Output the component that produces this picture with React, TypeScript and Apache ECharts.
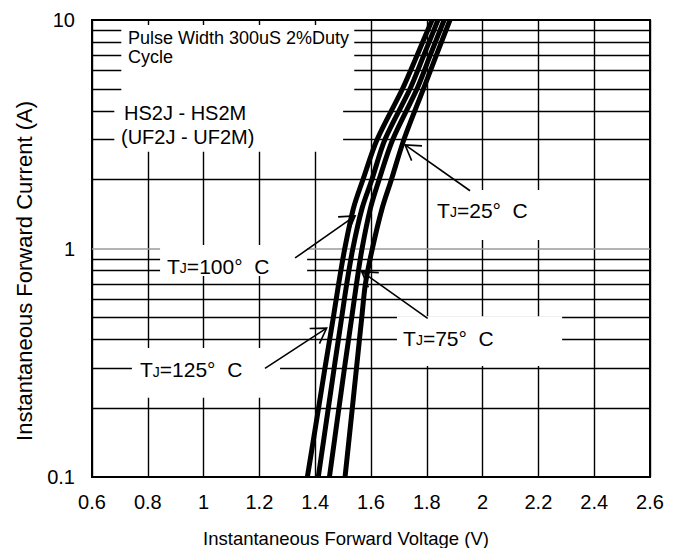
import React, { useEffect, useRef } from "react";
import * as echarts from "echarts";

const FONT = '"Liberation Sans", Arial, Helvetica, sans-serif';

// ---- data ----
const currents = [0.1, 0.2, 0.3, 0.5, 0.7, 1, 1.5, 2, 3, 5, 7, 10];
const vf125 = [1.372, 1.412, 1.435, 1.465, 1.484, 1.506, 1.537, 1.571, 1.622, 1.713, 1.765, 1.819];
const vf100 = [1.411, 1.447, 1.468, 1.495, 1.513, 1.535, 1.568, 1.603, 1.65, 1.74, 1.789, 1.84];
const vf75 = [1.451, 1.485, 1.505, 1.531, 1.548, 1.568, 1.598, 1.629, 1.678, 1.765, 1.812, 1.862];
const vf25 = [1.507, 1.533, 1.548, 1.567, 1.58, 1.605, 1.64, 1.673, 1.718, 1.788, 1.834, 1.883];
const curveNames = ["TJ=125°C", "TJ=100°C", "TJ=75°C", "TJ=25°C"];
const curveValues = [vf125, vf100, vf75, vf25];

const xMin = 0.6;
const xMax = 2.6;
const xStep = 0.2;
const yMin = 0.1;
const yMax = 10;
const minorGridValues = [0.2, 0.3, 0.4, 0.5, 0.6, 0.7, 0.8, 0.9, 2, 3, 4, 5, 6, 7, 8, 9];
const majorGridValues = [1];

const xTitle = "Instantaneous Forward Voltage (V)";
const yTitle = "Instantaneous Forward Current (A)";
const noteLines = ["Pulse Width 300uS 2%Duty", "Cycle"];
const partLines = ["HS2J - HS2M", "(UF2J - UF2M)"];
const tempLabels = ["25", "100", "75", "125"];

// ---- annotation layout (data coordinates) ----
const boxes = [
  [0.705, 9.5, 1.54, 4.4],
  [0.68, 4.7, 1.5, 2.65],
  [1.819, 1.803, 2.277, 1.089],
  [0.844, 1.036, 1.371, 0.758],
  [1.693, 0.505, 2.285, 0.306],
  [0.743, 0.367, 1.274, 0.222],
];
const notePos = [
  [0.729, 8.34],
  [0.729, 6.89],
];
const partPos = [
  [0.7147, 3.92],
  [0.704, 3.08],
];
const tempTextPos = [
  [1.837, 1.49],
  [0.869, 0.847],
  [1.715, 0.411],
  [0.772, 0.299],
];
const arrows = [
  [[1.955, 1.79], [1.722, 2.84]],
  [[1.328, 0.909], [1.543, 1.388]],
  [[1.803, 0.495], [1.567, 0.792]],
  [[1.22, 0.299], [1.441, 0.448]],
];

export default function App() {
  const ref = useRef<HTMLDivElement>(null);

  useEffect(() => {
    if (!ref.current) return;
    const chart = echarts.init(ref.current, undefined, { renderer: "svg" });

    const curveSeries = curveValues.map((vals, k) => ({
      type: "line",
      name: curveNames[k],
      data: currents.map((a, i) => [vals[i], a]),
      showSymbol: false,
      symbol: "none",
      smooth: 0.3,
      silent: true,
      z: 5,
      lineStyle: { color: "#000", width: 5 },
    }));

    const gridSeries = {
      type: "line",
      name: "grid",
      data: [],
      silent: true,
      z: 1,
      markLine: {
        z: 1,
        silent: true,
        animation: false,
        symbol: ["none", "none"],
        label: { show: false },
        data: [
          ...minorGridValues.map((v) => ({ yAxis: v, lineStyle: { color: "#000", width: 1.4, type: "solid" } })),
          ...majorGridValues.map((v) => ({ yAxis: v, lineStyle: { color: "#9a9a9a", width: 1.6, type: "solid" } })),
        ],
      },
    };

    chart.setOption({
      animation: false,
      backgroundColor: "#fff",
      textStyle: { fontFamily: FONT },
      grid: {
        left: 92,
        top: 20,
        width: 558,
        height: 457,
        show: true,
        borderColor: "#000",
        borderWidth: 2,
        backgroundColor: "transparent",
      },
      xAxis: {
        type: "value",
        min: xMin,
        max: xMax,
        interval: xStep,
        axisLine: { show: false },
        axisTick: { show: false },
        splitLine: { show: true, lineStyle: { color: "#000", width: 1.4 } },
        axisLabel: {
          color: "#000",
          fontSize: 20,
          fontFamily: FONT,
          margin: 15,
          formatter: (v: number) => String(Number(v.toFixed(1))),
        },
      },
      yAxis: {
        type: "log",
        logBase: 10,
        min: yMin,
        max: yMax,
        axisLine: { show: false },
        axisTick: { show: false },
        splitLine: { show: false },
        axisLabel: {
          color: "#000",
          fontSize: 20,
          fontFamily: FONT,
          margin: 17,
          formatter: (v: number) => String(Number(v.toPrecision(3))),
        },
      },
      series: [gridSeries, ...curveSeries],
    });

    const px = (p: number[]) => chart.convertToPixel({ gridIndex: 0 }, p) as number[];
    const elements: any[] = [];

    boxes.forEach((b) => {
      const a = px([b[0], b[1]]);
      const c = px([b[2], b[3]]);
      elements.push({
        type: "rect",
        z: 3,
        silent: true,
        shape: {
          x: Math.min(a[0], c[0]),
          y: Math.min(a[1], c[1]),
          width: Math.abs(c[0] - a[0]),
          height: Math.abs(c[1] - a[1]),
        },
        style: { fill: "#fff" },
      });
    });

    noteLines.forEach((t, i) => {
      const p = px(notePos[i]);
      elements.push({
        type: "text",
        z: 6,
        x: p[0],
        y: p[1],
        style: { text: t, fill: "#000", fontSize: 18, fontFamily: FONT, align: "left", verticalAlign: "middle" },
      });
    });

    partLines.forEach((t, i) => {
      const p = px(partPos[i]);
      elements.push({
        type: "text",
        z: 6,
        x: p[0],
        y: p[1],
        style: { text: t, fill: "#000", fontSize: 20, fontFamily: FONT, align: "left", verticalAlign: "middle" },
      });
    });

    tempLabels.forEach((t, i) => {
      const p = px(tempTextPos[i]);
      elements.push({
        type: "text",
        z: 6,
        x: p[0],
        y: p[1],
        style: {
          text: `{a|T}{b|J}{a|=${t}°  C}`,
          fill: "#000",
          align: "left",
          verticalAlign: "middle",
          rich: {
            a: { fontSize: 21, fontFamily: FONT, fill: "#000", verticalAlign: "bottom", lineHeight: 24 },
            b: { fontSize: 14, fontFamily: FONT, fill: "#000", verticalAlign: "bottom", lineHeight: 14, padding: [0, 0, 1.5, 0] },
          },
        },
      });
    });

    arrows.forEach(([s0, t0]) => {
      const s = px(s0);
      const t = px(t0);
      const dx = t[0] - s[0];
      const dy = t[1] - s[1];
      const len = Math.hypot(dx, dy) || 1;
      const bx = -dx / len;
      const by = -dy / len;
      const L = 17;
      const th = (32 * Math.PI) / 180;
      const arm = (ang: number) => [
        t[0] + L * (bx * Math.cos(ang) - by * Math.sin(ang)),
        t[1] + L * (bx * Math.sin(ang) + by * Math.cos(ang)),
      ];
      elements.push({
        type: "line",
        z: 6,
        silent: true,
        shape: { x1: s[0], y1: s[1], x2: t[0], y2: t[1] },
        style: { stroke: "#000", lineWidth: 1.6 },
      });
      elements.push({
        type: "polyline",
        z: 6,
        silent: true,
        shape: { points: [arm(th), t, arm(-th)] },
        style: { stroke: "#000", lineWidth: 1.6, fill: "none" },
      });
    });

    elements.push({
      type: "text",
      z: 6,
      x: 346,
      y: 538,
      style: { text: xTitle, fill: "#000", fontSize: 18.5, fontFamily: FONT, align: "center", verticalAlign: "middle" },
    });
    elements.push({
      type: "text",
      z: 6,
      x: 24,
      y: 271,
      rotation: Math.PI / 2,
      style: { text: yTitle, fill: "#000", fontSize: 22, fontFamily: FONT, align: "center", verticalAlign: "middle" },
    });

    chart.setOption({ graphic: { elements } });

    return () => chart.dispose();
  }, []);

  return (
    <div
      ref={ref}
      style={{ position: "fixed", left: 0, top: 0, width: 684, height: 548, background: "#fff" }}
    />
  );
}
